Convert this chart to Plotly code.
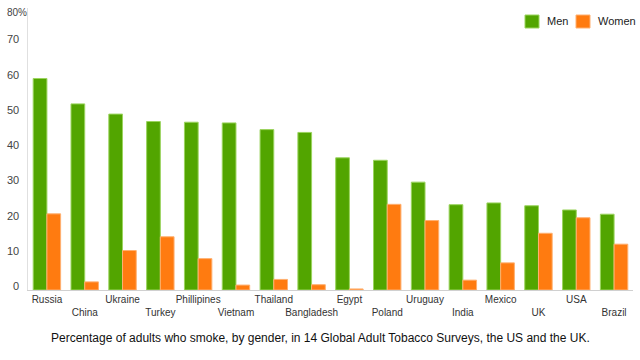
import plotly.graph_objects as go

countries = ["Russia", "China", "Ukraine", "Turkey", "Phillipines", "Vietnam", "Thailand",
             "Bangladesh", "Egypt", "Poland", "Uruguay", "India", "Mexico", "UK", "USA", "Brazil"]
men = [60.0, 52.8, 49.9, 47.8, 47.6, 47.4, 45.5, 44.7, 37.5, 36.8, 30.6, 24.2, 24.7, 23.9, 22.7, 21.5]
women = [21.6, 2.3, 11.2, 15.1, 8.9, 1.4, 3.0, 1.5, 0.3, 24.3, 19.7, 2.8, 7.7, 16.1, 20.5, 13.0]
series_names = ["Men", "Women"]
y_ticks = [0, 10, 20, 30, 40, 50, 60, 70]
y_top = 80
caption = "Percentage of adults who smoke, by gender, in 14 Global Adult Tobacco Surveys, the US and the UK."

FONT = "Liberation Sans, Arial, Helvetica, sans-serif"
GREEN = "#52a500"
ORANGE = "#ff7b10"
EDGES = ["#9bd45e", "#ffb070"]
COLORS = [GREEN, ORANGE]

W, H = 640, 360
ML, MR, MT, MB = 28, 7, 8, 70
PW, PH = W - ML - MR, H - MT - MB


def px_x(px):
    return (px - ML) / PW


def px_y(py):
    return (H - MB - py) / PH


tick_text = [c if i % 2 == 0 else "<br>" + c for i, c in enumerate(countries)]

fig = go.Figure()
for name, vals, col, edge in zip(series_names, [men, women], COLORS, EDGES):
    fig.add_trace(go.Bar(x=countries, y=vals, name=name, showlegend=False,
                         marker=dict(color=col, line=dict(color=edge, width=1))))

annotations = []
for v in y_ticks:
    annotations.append(dict(x=0, xref="paper", y=v, yref="y", text=str(v), showarrow=False,
                            xanchor="right", yanchor="middle", xshift=-7, yshift=4,
                            font=dict(family=FONT, size=11, color="#444")))
annotations.append(dict(x=0, xref="paper", y=y_top, yref="y", text=f"{y_top}%", showarrow=False,
                        xanchor="right", yanchor="middle", xshift=1, yshift=-4,
                        font=dict(family=FONT, size=10, color="#444")))
annotations.append(dict(x=px_x(320), xref="paper", y=-0.17, yref="paper", text=caption,
                        showarrow=False, xanchor="center", yanchor="middle",
                        font=dict(family=FONT, size=12, color="#111")))

# manual legend (swatches + labels)
shapes = []
legend_left = [525, 576]
for name, col, edge, lx in zip(series_names, COLORS, EDGES, legend_left):
    shapes.append(dict(type="rect", xref="paper", yref="paper",
                       x0=px_x(lx), x1=px_x(lx + 14), y0=px_y(28), y1=px_y(15),
                       fillcolor=col, line=dict(color=edge, width=1)))
    annotations.append(dict(x=px_x(lx + 20), xref="paper", y=px_y(21.5), yref="paper", text=name,
                            showarrow=False, xanchor="left", yanchor="middle",
                            font=dict(family=FONT, size=11, color="#222")))

fig.update_layout(
    width=W, height=H,
    margin=dict(l=ML, r=MR, t=MT, b=MB),
    paper_bgcolor="white", plot_bgcolor="white",
    barmode="group", bargap=0.275, bargroupgap=0,
    font=dict(family=FONT, size=10, color="#333"),
    showlegend=False,
    annotations=annotations,
    shapes=shapes,
)
fig.update_xaxes(tickmode="array", tickvals=countries, ticktext=tick_text,
                 showline=True, linecolor="#d0d0d0", linewidth=1, ticks="",
                 tickfont=dict(family=FONT, size=10, color="#333"), showgrid=False, tickangle=0)
fig.update_yaxes(range=[0, y_top], showticklabels=False, showgrid=False, zeroline=False,
                 showline=True, linecolor="#e0e0e0", linewidth=1, ticks="")

fig.write_html("out.html", config={"displayModeBar": False},
               post_script="document.body.style.margin='0';document.body.style.overflow='hidden';")
